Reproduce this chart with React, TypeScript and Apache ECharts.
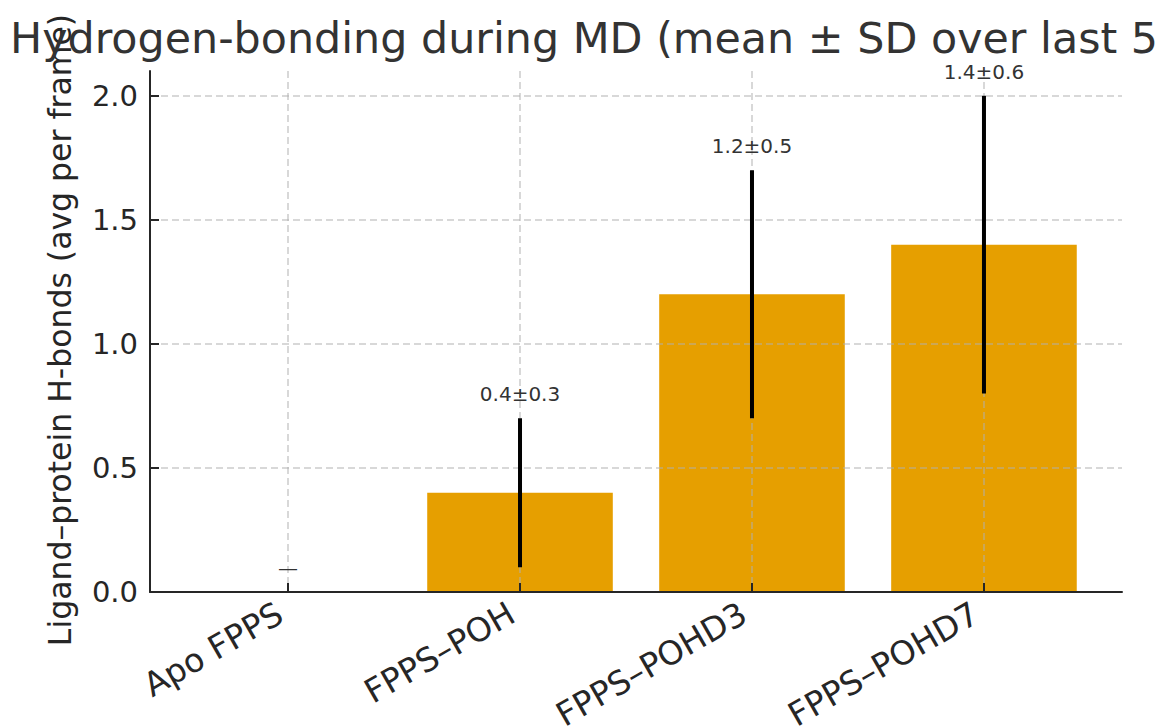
import React, { useEffect, useRef } from "react";
import * as echarts from "echarts";

const categories = ["Apo FPPS", "FPPS–POH", "FPPS–POHD3", "FPPS–POHD7"];
const means = [0, 0.4, 1.2, 1.4];
const sds = [0, 0.3, 0.5, 0.6];
const annotations = ["—", "0.4±0.3", "1.2±0.5", "1.4±0.6"];
const yTicks = [0, 0.5, 1.0, 1.5, 2.0];
const xTicks = [0, 1, 2, 3];

const titleText = "Hydrogen-bonding during MD (mean ± SD over last 50 ns)";
const yLabel = "Ligand–protein H-bonds (avg per frame)";

const FONT = '"DejaVu Sans", sans-serif';
const TEXT = "#262626";
const SPINE = "#262626";
const GRID = "rgba(176,176,176,0.65)";

export default function App() {
  const ref = useRef<HTMLDivElement>(null);
  useEffect(() => {
    if (!ref.current) return;
    const chart = echarts.init(ref.current, undefined, { renderer: "svg" });
    const barData = categories.map((_, i) => [i, means[i]]);
    const errData = categories.map((_, i) => [i, means[i] - sds[i], means[i] + sds[i]]);
    const annData = categories.map((_, i) => [i, means[i] + sds[i], i]);
    chart.setOption({
      animation: false,
      grid: {
        left: 150,
        right: 35,
        top: 71,
        bottom: 134,
        containLabel: false,
        outerBoundsMode: "none",
      },
      graphic: [
        {
          type: "text",
          x: 10,
          y: 38,
          style: {
            text: titleText,
            font: `42.8px ${FONT}`,
            fill: "#333",
            textAlign: "left",
            textVerticalAlign: "middle",
          },
          z: 10,
        },
        {
          type: "text",
          x: 60,
          y: 330,
          rotation: Math.PI / 2,
          style: {
            text: yLabel,
            font: `31.5px ${FONT}`,
            fill: TEXT,
            textAlign: "center",
            textVerticalAlign: "middle",
          },
          z: 1,
        },
      ],
      xAxis: {
        type: "value",
        min: -0.595,
        max: 3.595,
        z: 3,
        axisLine: { show: true, onZero: false, lineStyle: { color: SPINE, width: 2 } },
        axisTick: {
          show: true,
          inside: true,
          length: 9,
          customValues: xTicks,
          lineStyle: { color: SPINE, width: 2 },
        },
        axisLabel: {
          customValues: xTicks,
          formatter: (v: number) => categories[Math.round(v)] ?? "",
          rotate: 30,
          fontSize: 33,
          fontFamily: FONT,
          color: TEXT,
          align: "right",
          verticalAlign: "bottom",
          margin: 33,
        },
        splitLine: {
          show: true,
          lineStyle: { color: GRID, type: [7, 4], width: 1.5 },
        },
      },
      yAxis: {
        type: "value",
        min: 0,
        max: 2.1,
        z: 3,
        axisLine: { show: true, onZero: false, lineStyle: { color: SPINE, width: 2 } },
        axisTick: {
          show: true,
          inside: true,
          length: 9,
          customValues: yTicks,
          lineStyle: { color: SPINE, width: 2 },
        },
        axisLabel: {
          customValues: yTicks,
          formatter: (v: number) => v.toFixed(1),
          fontSize: 29,
          fontFamily: FONT,
          color: TEXT,
          margin: 12,
        },
        splitLine: {
          show: true,
          lineStyle: { color: GRID, type: [7, 4], width: 1.5 },
        },
      },
      series: [
        {
          type: "bar",
          data: barData,
          barWidth: "80%",
          itemStyle: { color: "#E69F00" },
          z: 2,
        },
        {
          type: "custom",
          data: errData,
          z: 4,
          renderItem: (_p: any, api: any) => {
            const x = api.value(0);
            const a = api.coord([x, api.value(1)]);
            const b = api.coord([x, api.value(2)]);
            return {
              type: "line",
              shape: { x1: a[0], y1: a[1], x2: b[0], y2: b[1] },
              style: { stroke: "#000", lineWidth: 4 },
            };
          },
        },
        {
          type: "custom",
          data: annData,
          z: 5,
          renderItem: (_p: any, api: any) => {
            const x = api.value(0);
            const idx = api.value(2);
            const p = api.coord([x, api.value(1)]);
            return {
              type: "text",
              x: p[0],
              y: p[1] - 24,
              style: {
                text: annotations[idx],
                font: `20px ${FONT}`,
                fill: "#333",
                textAlign: "center",
                textVerticalAlign: "middle",
              },
            };
          },
        },
      ],
    });
    return () => chart.dispose();
  }, []);
  return (
    <div
      ref={ref}
      style={{ position: "fixed", left: 0, top: 0, width: 1157, height: 726, background: "#fff" }}
    />
  );
}
